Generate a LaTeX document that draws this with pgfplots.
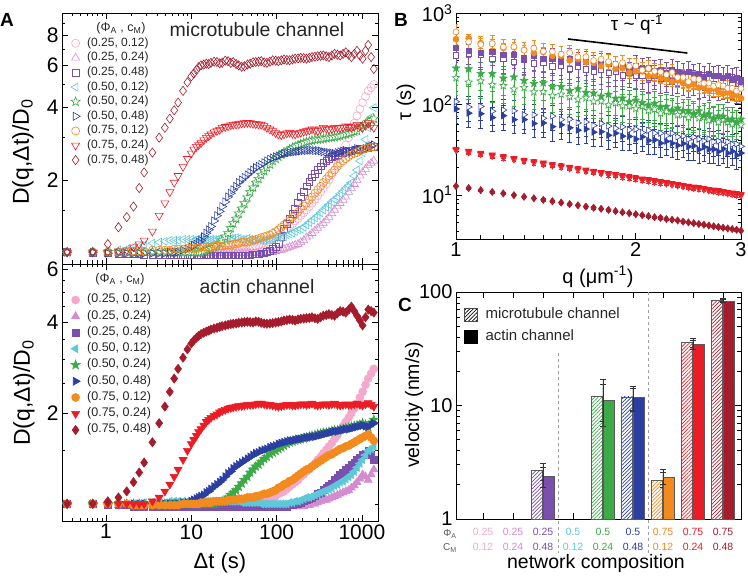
\documentclass[border=0pt]{standalone}
\usepackage{fontspec}
\setmainfont{Liberation Sans}
\usepackage{pgfplots}
\usepackage{pgfplotstable}
\pgfplotsset{compat=1.18}
\usetikzlibrary{plotmarks,patterns.meta}

\definecolor{cPink}{HTML}{F4A9CC}
\definecolor{cOrchid}{HTML}{D48BCF}
\definecolor{cPurple}{HTML}{7A4FAE}
\definecolor{cCyan}{HTML}{5CC8D9}
\definecolor{cGreen}{HTML}{3BAA47}
\definecolor{cBlue}{HTML}{2B3FA3}
\definecolor{cOrange}{HTML}{F28A1D}
\definecolor{cRed}{HTML}{EC1C24}
\definecolor{cDark}{HTML}{A51D2D}

% five-pointed star marker
\pgfdeclareplotmark{fivestar}{%
  \pgfpathmoveto{\pgfpointpolar{90}{\pgfplotmarksize}}%
  \pgfpathlineto{\pgfpointpolar{126}{0.42\pgfplotmarksize}}%
  \pgfpathlineto{\pgfpointpolar{162}{\pgfplotmarksize}}%
  \pgfpathlineto{\pgfpointpolar{198}{0.42\pgfplotmarksize}}%
  \pgfpathlineto{\pgfpointpolar{234}{\pgfplotmarksize}}%
  \pgfpathlineto{\pgfpointpolar{270}{0.42\pgfplotmarksize}}%
  \pgfpathlineto{\pgfpointpolar{306}{\pgfplotmarksize}}%
  \pgfpathlineto{\pgfpointpolar{342}{0.42\pgfplotmarksize}}%
  \pgfpathlineto{\pgfpointpolar{18}{\pgfplotmarksize}}%
  \pgfpathlineto{\pgfpointpolar{54}{0.42\pgfplotmarksize}}%
  \pgfpathclose
  \pgfusepathqfillstroke
}

% microtubule channel, D(q,dt)/D0
\pgfplotstableread{
t      pink orch purp cyan gren blue oran red  dred
0.35   1.00 1.00 1.00 1.00 1.00 1.00 1.00 1.00 1.00
0.7    1.00 1.00 0.99 1.00 1.00 1.00 1.00 1.00 1.00
1.05   1.00 1.00 0.99 1.01 1.00 0.99 1.00 1.00 1.08
1.4    1.00 0.99 0.98 1.02 1.00 0.99 1.00 1.01 1.27
1.75   1.00 0.99 0.98 1.03 1.00 0.99 1.00 1.02 1.40
2.1    1.00 0.99 0.98 1.05 1.00 0.99 1.01 1.05 1.55
2.45   1.00 0.99 0.98 1.06 1.00 0.99 1.01 1.08 1.85
2.8    1.00 0.99 0.97 1.07 1.00 0.99 1.01 1.12 2.15
3.5    1.00 0.99 0.97 1.09 1.00 0.99 1.02 1.22 2.60
4.2    1.00 0.99 0.97 1.10 1.00 0.99 1.02 1.42 3.00
4.9    1.00 0.99 0.97 1.11 1.00 0.99 1.02 1.60 3.30
5.6    1.00 0.99 0.97 1.12 1.00 1.00 1.02 1.78 3.60
6.3    1.00 0.99 0.97 1.12 1.00 1.00 1.03 1.95 3.90
7      1.00 0.99 0.97 1.12 1.00 1.00 1.03 2.08 4.20
8      1.00 0.99 0.97 1.13 1.00 1.02 1.03 2.27 4.70
9      1.00 0.99 0.97 1.13 1.00 1.03 1.04 2.45 5.10
10     1.00 0.99 0.97 1.13 1.00 1.05 1.04 2.58 5.40
10.7   1.00 0.99 0.97 1.12 1.00 1.07 1.03 2.68 5.55
11.5   1.00 0.99 0.97 1.13 1.00 1.08 1.04 2.75 5.75
12.2   1.00 0.99 0.97 1.14 1.00 1.10 1.04 2.80 5.90
13     1.00 0.99 0.97 1.13 1.00 1.12 1.05 2.85 6.00
14     1.00 0.99 0.97 1.13 1.01 1.16 1.05 2.93 6.05
15     1.01 0.99 0.97 1.13 1.02 1.20 1.05 3.00 6.10
16     1.01 0.99 0.97 1.12 1.03 1.24 1.05 3.05 6.08
17     1.01 0.99 0.97 1.13 1.04 1.28 1.05 3.10 6.15
18.5   1.01 0.99 0.97 1.13 1.05 1.35 1.06 3.16 6.22
20     1.01 0.99 0.97 1.13 1.07 1.42 1.06 3.20 6.20
21.5   1.02 0.99 0.97 1.14 1.09 1.48 1.06 3.24 6.12
23     1.02 0.99 0.97 1.14 1.12 1.55 1.06 3.30 6.15
25     1.02 0.99 0.97 1.13 1.16 1.62 1.07 3.33 6.28
27     1.02 0.99 0.97 1.14 1.20 1.70 1.07 3.35 6.25
29     1.02 0.99 0.97 1.14 1.26 1.76 1.07 3.38 6.15
31     1.03 0.99 0.97 1.14 1.32 1.82 1.08 3.40 6.20
33.5   1.03 0.99 0.97 1.15 1.38 1.88 1.08 3.41 6.08
36     1.03 0.99 0.97 1.14 1.45 1.95 1.09 3.42 6.00
39     1.04 0.99 0.97 1.13 1.52 2.00 1.10 3.44 5.92
42     1.04 0.99 0.97 1.13 1.60 2.05 1.10 3.45 5.95
45.5   1.05 0.99 0.97 1.14 1.69 2.10 1.10 3.46 6.05
49     1.05 0.99 0.97 1.13 1.78 2.15 1.11 3.45 6.10
53     1.05 0.99 0.98 1.12 1.86 2.20 1.12 3.43 6.18
57     1.06 0.99 0.98 1.12 1.95 2.25 1.13 3.42 6.20
61.5   1.07 0.99 0.98 1.13 2.02 2.28 1.14 3.41 6.22
66     1.08 1.00 0.99 1.12 2.10 2.32 1.15 3.40 6.25
71.5   1.09 1.00 0.99 1.12 2.18 2.36 1.16 3.36 6.18
77     1.10 1.00 1.00 1.13 2.25 2.40 1.17 3.30 6.15
83.5   1.12 1.00 1.01 1.13 2.32 2.44 1.18 3.25 6.22
90     1.14 1.00 1.03 1.14 2.40 2.47 1.20 3.20 6.30
97.5   1.16 1.01 1.05 1.15 2.45 2.50 1.22 3.14 6.28
105    1.18 1.02 1.08 1.15 2.50 2.52 1.24 3.10 6.25
113.5  1.20 1.02 1.16 1.15 2.55 2.55 1.27 3.08 6.30
122    1.23 1.03 1.25 1.16 2.60 2.57 1.30 3.10 6.35
132    1.25 1.04 1.31 1.18 2.64 2.58 1.33 3.13 6.32
142    1.28 1.05 1.38 1.19 2.68 2.60 1.36 3.15 6.30
153.5  1.31 1.06 1.45 1.20 2.72 2.61 1.40 3.12 6.35
165    1.35 1.07 1.52 1.22 2.75 2.62 1.43 3.10 6.40
178.5  1.38 1.08 1.61 1.24 2.79 2.63 1.47 3.13 6.42
192    1.42 1.10 1.70 1.25 2.82 2.64 1.52 3.15 6.45
208    1.46 1.12 1.79 1.27 2.85 2.65 1.56 3.18 6.43
224    1.50 1.15 1.88 1.30 2.88 2.65 1.60 3.20 6.40
242    1.55 1.17 1.96 1.33 2.90 2.66 1.65 3.22 6.45
260    1.60 1.20 2.05 1.36 2.92 2.66 1.70 3.25 6.50
281.5  1.66 1.23 2.12 1.39 2.94 2.65 1.76 3.22 6.52
303    1.72 1.26 2.20 1.42 2.95 2.65 1.82 3.20 6.55
328    1.78 1.29 2.28 1.46 2.96 2.64 1.88 3.25 6.58
353    1.85 1.32 2.35 1.50 2.97 2.62 1.95 3.30 6.60
382    1.92 1.36 2.40 1.54 2.99 2.61 2.02 3.28 6.55
411    2.00 1.40 2.45 1.58 3.00 2.60 2.08 3.25 6.50
444.5  2.10 1.45 2.49 1.62 3.01 2.59 2.14 3.27 6.60
478    2.20 1.50 2.52 1.66 3.02 2.58 2.20 3.30 6.70
517    2.32 1.55 2.55 1.70 3.04 2.60 2.28 3.30 6.65
556    2.45 1.60 2.58 1.75 3.05 2.62 2.35 3.30 6.60
601.5  2.62 1.65 2.60 1.80 3.08 2.64 2.40 3.32 6.70
647    2.80 1.70 2.62 1.85 3.10 2.65 2.45 3.35 6.80
700    3.00 1.78 2.64 1.90 3.12 2.62 2.50 3.33 6.65
753    3.20 1.85 2.65 1.95 3.15 2.60 2.55 3.30 6.50
814.5  3.45 1.92 2.66 2.08 3.18 2.66 2.58 3.35 6.70
876    3.70 2.00 2.68 2.20 3.20 2.70 2.60 3.40 6.90
947.5  3.95 2.08 2.69 2.40 3.28 2.68 2.64 3.35 6.60
1019   4.20 2.15 2.70 2.60 3.35 2.65 2.68 3.30 6.40
1102.5 4.45 2.22 2.71 2.95 3.42 2.70 2.70 3.38 6.90
1186   4.70 2.30 2.72 3.30 3.50 2.75 2.72 3.45 7.30
1283   4.85 2.35 2.74 3.65 3.55 2.78 2.74 3.38 6.50
1380   5.00 2.40 2.75 4.00 3.60 2.80 2.75 3.30 5.80
}\mttab

% actin channel, D(q,dt)/D0
\pgfplotstableread{
t      pink orch purp cyan gren blue oran red  dred
0.35   1.00 1.00 1.00 1.00 1.00 1.00 1.00 1.00 1.00
0.7    1.00 1.00 1.00 1.00 1.00 1.00 1.00 1.00 1.00
1.05   1.00 1.00 0.99 1.00 1.00 1.00 1.00 1.00 1.02
1.4    1.00 0.99 0.99 1.00 1.00 1.00 1.00 1.00 1.05
1.75   1.00 0.99 0.99 1.00 1.00 1.00 1.00 1.00 1.10
2.1    1.00 0.99 0.98 1.00 1.00 1.00 0.99 1.00 1.18
2.45   1.00 0.99 0.98 1.00 1.00 1.00 0.99 1.00 1.27
2.8    1.00 0.99 0.98 1.01 1.00 1.00 0.99 1.00 1.37
3.5    1.00 0.99 0.98 1.01 1.00 1.00 0.99 1.02 1.60
4.2    1.00 0.99 0.98 1.01 1.00 1.00 0.99 1.05 1.85
4.9    1.00 0.99 0.98 1.01 1.00 1.00 0.99 1.10 2.10
5.6    1.00 0.99 0.98 1.02 1.00 1.00 0.99 1.16 2.35
6.3    1.00 0.99 0.98 1.02 1.00 1.00 0.99 1.23 2.60
7      1.00 0.99 0.98 1.02 1.00 1.00 0.99 1.30 2.80
8      1.00 0.99 0.98 1.02 1.00 1.01 1.00 1.40 3.05
9      1.00 0.99 0.98 1.02 1.00 1.01 1.00 1.50 3.25
10     1.00 0.99 0.98 1.02 1.00 1.02 1.00 1.58 3.40
10.7   1.00 0.99 0.98 1.02 1.00 1.03 1.00 1.63 3.48
11.5   1.00 0.99 0.98 1.02 1.00 1.04 1.00 1.68 3.55
12.2   1.00 0.99 0.98 1.02 1.00 1.05 1.00 1.73 3.60
13     1.00 0.99 0.98 1.02 1.00 1.06 1.01 1.77 3.65
14     1.00 0.99 0.98 1.02 1.00 1.07 1.01 1.82 3.69
15     1.00 0.99 0.98 1.02 1.00 1.09 1.01 1.87 3.72
16     1.00 0.99 0.98 1.02 1.00 1.10 1.01 1.90 3.75
17     1.00 0.99 0.98 1.02 1.00 1.12 1.01 1.93 3.78
18.5   1.00 0.99 0.98 1.02 1.00 1.14 1.02 1.96 3.81
20     1.00 0.99 0.98 1.02 1.01 1.16 1.02 1.98 3.83
21.5   1.00 0.99 0.98 1.02 1.01 1.18 1.02 2.01 3.86
23     1.00 0.99 0.98 1.02 1.02 1.20 1.02 2.03 3.88
25     1.00 0.99 0.98 1.02 1.03 1.23 1.02 2.05 3.90
27     1.00 0.99 0.98 1.02 1.05 1.26 1.03 2.07 3.92
29     1.00 0.99 0.98 1.02 1.07 1.28 1.03 2.08 3.94
31     1.00 0.99 0.98 1.02 1.09 1.31 1.03 2.09 3.95
33.5   1.00 0.99 0.98 1.02 1.11 1.33 1.03 2.10 3.96
36     1.00 0.99 0.98 1.02 1.14 1.35 1.04 2.11 3.98
39     1.00 0.99 0.98 1.01 1.17 1.37 1.04 2.11 3.99
42     1.00 0.99 0.98 1.01 1.20 1.39 1.04 2.12 4.00
45.5   1.00 0.99 0.98 1.01 1.23 1.41 1.05 2.13 4.01
49     1.00 0.99 0.98 1.01 1.27 1.43 1.05 2.13 4.00
53     1.00 0.98 0.98 1.01 1.30 1.45 1.05 2.13 3.99
57     1.01 0.98 0.98 1.01 1.33 1.47 1.06 2.14 4.02
61.5   1.01 0.98 0.98 1.01 1.35 1.48 1.06 2.15 4.01
66     1.02 0.98 0.98 1.00 1.38 1.50 1.07 2.15 3.98
71.5   1.02 0.98 0.98 1.00 1.41 1.51 1.08 2.14 3.96
77     1.03 0.98 0.98 1.00 1.43 1.52 1.08 2.13 3.95
83.5   1.04 0.98 0.98 1.00 1.46 1.54 1.09 2.13 3.96
90     1.05 0.98 0.98 1.00 1.48 1.55 1.10 2.12 3.97
97.5   1.06 0.98 0.98 1.00 1.50 1.56 1.11 2.11 3.99
105    1.08 0.98 0.98 1.00 1.52 1.58 1.13 2.10 4.00
113.5  1.09 0.98 0.98 1.00 1.54 1.59 1.14 2.11 4.02
122    1.10 0.98 0.98 1.00 1.56 1.60 1.16 2.12 4.05
132    1.12 0.98 0.98 1.00 1.58 1.61 1.17 2.13 4.06
142    1.14 0.98 0.99 1.01 1.60 1.62 1.19 2.13 4.08
153.5  1.16 0.98 0.99 1.01 1.61 1.62 1.20 2.12 4.07
165    1.18 0.98 1.00 1.02 1.62 1.63 1.22 2.12 4.05
178.5  1.20 0.98 1.00 1.02 1.63 1.64 1.24 2.13 4.08
192    1.23 0.98 1.01 1.03 1.64 1.64 1.26 2.14 4.10
208    1.25 0.98 1.02 1.04 1.65 1.65 1.28 2.14 4.11
224    1.28 0.99 1.03 1.05 1.66 1.66 1.30 2.13 4.12
242    1.30 0.99 1.04 1.05 1.67 1.66 1.31 2.14 4.13
260    1.33 1.00 1.05 1.06 1.68 1.67 1.33 2.15 4.15
281.5  1.36 1.00 1.06 1.07 1.69 1.67 1.35 2.13 4.12
303    1.40 1.01 1.08 1.08 1.70 1.68 1.37 2.12 4.10
328    1.43 1.02 1.09 1.09 1.71 1.69 1.39 2.13 4.15
353    1.47 1.03 1.11 1.10 1.72 1.70 1.41 2.14 4.20
382    1.51 1.03 1.13 1.11 1.72 1.71 1.43 2.14 4.22
411    1.55 1.04 1.15 1.12 1.73 1.72 1.45 2.13 4.25
444.5  1.59 1.05 1.17 1.13 1.74 1.73 1.46 2.14 4.22
478    1.64 1.06 1.20 1.15 1.75 1.74 1.48 2.15 4.20
517    1.69 1.07 1.22 1.16 1.75 1.74 1.50 2.13 4.28
556    1.75 1.08 1.25 1.18 1.76 1.75 1.52 2.12 4.35
601.5  1.81 1.09 1.27 1.19 1.77 1.76 1.53 2.13 4.33
647    1.87 1.10 1.30 1.21 1.78 1.77 1.55 2.14 4.30
700    1.93 1.11 1.32 1.23 1.79 1.77 1.56 2.13 4.40
753    2.00 1.13 1.35 1.25 1.80 1.78 1.58 2.13 4.50
814.5  2.07 1.15 1.37 1.28 1.81 1.79 1.60 2.14 4.35
876    2.15 1.18 1.40 1.32 1.82 1.80 1.62 2.15 4.20
947.5  2.25 1.21 1.42 1.36 1.83 1.81 1.64 2.13 4.05
1019   2.35 1.25 1.45 1.40 1.85 1.82 1.66 2.12 3.90
1102.5 2.48 1.23 1.47 1.45 1.83 1.81 1.68 2.14 4.15
1186   2.60 1.20 1.50 1.50 1.80 1.80 1.70 2.16 4.40
1283   2.70 1.25 1.45 1.52 1.85 1.83 1.66 2.13 4.35
1380   2.80 1.30 1.40 1.55 1.90 1.85 1.62 2.10 4.30
}\actab

% tau(q); o = microtubule (open), f = actin (filled)
\pgfplotstableread{
q    oo  of  pf  po  gf    go    bo   bf   ro    rf   dr
1.00 620 515 412 342 247.5 193.8 106  88.4 31.0  32.1 12.5
1.05 482 527 387 353 242.5 173.3 92.6 79.3 29.4  30.4 11.9
1.10 450 466 364 347 215.6 178.8 94.0 78.1 28.0  29.0 11.3
1.15 461 461 378 315 214.7 162.4 83.2 70.9 26.8  27.7 10.8
1.20 424 413 347 314 191.7 158.5 85.8 74.3 25.6  26.5 10.4
1.25 427 422 350 289 197.6 145.8 84.1 67.3 24.5  25.4 9.95
1.30 390 392 318 307 180.9 151.5 76.3 67.4 23.5  24.3 9.55
1.35 410 364 336 280 167.6 135.8 76.0 61.1 22.6  23.4 9.2
1.40 379 373 315 283 170.3 136.1 69.7 61.9 21.8  22.6 8.85
1.45 376 338 314 259 155.2 123.5 73.7 56.3 21.0  21.7 8.55
1.50 352 338 294 266 154.9 127.8 67.3 59.0 20.3  21.0 8.25
1.55 366 301 315 243 140.0 119.9 67.9 54.8 19.6  20.3 7.95
1.60 329 312 282 257 145.9 112.5 62.0 51.5 18.9  19.6 7.7
1.65 330 288 293 241 133.7 116.8 63.3 53.0 18.3  18.9 7.45
1.70 300 282 265 228 131.4 106.6 58.0 49.0 17.8  18.4 7.25
1.75 311 261 279 237 121.7 107.7 61.0 49.6 17.2  17.8 7.05
1.80 292 273 279 221 127.4 97.4  57.2 45.3 16.7  17.3 6.85
1.85 274 242 258 224 115.1 102.5 54.1 47.8 16.3  16.9 6.65
1.90 284 247 261 207 115.8 95.8  56.0 44.3 15.8  16.4 6.45
1.95 260 220 244 219 105.6 95.0  52.0 44.0 15.4  15.9 6.3
2.00 262 228 262 205 109.8 89.0  52.8 41.2 15.0  15.5 6.15
2.05 236 228 243 205 103.5 94.8  48.6 43.6 14.6  15.1 6.0
2.10 246 202 249 193 97.3  84.5  51.4 39.7 14.3  14.8 5.85
2.15 229 206 230 205 101.4 87.6  47.8 40.3 13.9  14.4 5.7
2.20 225 192 239 188 93.0  78.9  47.8 37.1 13.6  14.1 5.6
2.25 210 189 221 192 93.9  82.6  44.9 38.9 13.3  13.8 5.45
2.30 222 176 236 178 85.3  82.4  47.6 37.0 13.0  13.5 5.35
2.35 196 182 224 187 90.1  75.9  43.5 35.1 12.7  13.1 5.25
2.40 196 169 214 179 84.4  76.5  44.4 36.8 12.4  12.8 5.1
2.45 176 159 224 170 83.8  71.1  41.0 34.0 12.2  12.6 5.0
2.50 189 164 210 180 78.6  76.1  43.2 34.7 11.9  12.3 4.9
2.55 186 151 216 167 83.7  70.3  41.1 31.6 11.7  12.1 4.8
2.60 169 153 200 171 75.0  71.7  39.2 33.7 11.5  11.9 4.72
2.65 170 140 215 157 77.6  66.2  41.3 31.8 11.2  11.6 4.62
2.70 157 148 202 168 69.9  68.2  38.2 31.8 11.0  11.4 4.53
2.75 163 138 203 159 73.5  63.0  39.1 30.0 10.8  11.2 4.45
2.80 158 130 193 160 73.2  67.0  35.8 32.2 10.6  11.0 4.37
2.85 149 134 206 151 67.6  63.2  38.2 28.9 10.4  10.8 4.29
2.90 149 124 190 163 68.2  60.1  36.1 30.2 10.2  10.6 4.22
2.95 139 126 195 147 63.5  62.7  36.3 27.4 10.05 10.4 4.15
3.00 148 115 182 154 67.9  58.6  34.2 28.9 9.85  10.2 4.05
}\btab

\pgfplotsset{
  every axis/.append style={
    scale only axis,
    axis line style={line width=0.9pt},
    tick align=inside,
    major tick length=6pt,
    minor tick length=3.5pt,
    every tick/.style={black,line width=0.7pt},
    /pgf/number format/assume math mode=true,
  },
}

\begin{document}
\begin{tikzpicture}[x=1pt,y=1pt]
\path[use as bounding box] (0pt,0pt) rectangle (748pt,580pt);

% ---------- A, microtubule channel ----------
\begin{axis}[at={(62pt,316pt)}, anchor=south west, width=316pt, height=251pt,
  xmode=log, ymode=log,
  xmin=0.3049, xmax=1545, ymin=0.893, ymax=9.92,
  xtick={1,10,100,1000}, xticklabels={},
  minor xtick={0.4,0.5,0.6,0.7,0.8,0.9,2,3,4,5,6,7,8,9,20,30,40,50,60,70,80,90,200,300,400,500,600,700,800,900},
  ytick={2,4,6,8}, yticklabels={2,4,6,8},
  minor ytick={1,1.5,3,5,7,9},
  tick label style={font=\fontsize{21}{21}\selectfont},
  legend cell align=left,
  legend image code/.code={\draw[mark repeat=2,mark phase=2] plot coordinates {(0pt,0pt)(5pt,0pt)(10pt,0pt)};},
  legend style={at={(0,1)}, anchor=north west, xshift=9pt, yshift=-23.3pt,
    draw=none, fill=none, inner sep=0pt, outer sep=0pt, row sep=0.6pt, column sep=6pt,
    font=\fontsize{12}{12}\selectfont, text=black!85,
    nodes={text height=9pt, text depth=3pt, inner sep=1pt}},
]
\addplot[only marks, line width=0.6pt, cPink, mark=o, mark size=4pt] table[x=t,y=pink]{\mttab};
\addlegendentry{(0.25, 0.12)}
\addplot[only marks, line width=0.6pt, cOrchid, mark=triangle, mark size=4.6pt] table[x=t,y=orch]{\mttab};
\addlegendentry{(0.25, 0.24)}
\addplot[only marks, line width=0.6pt, cPurple, mark=square, mark size=3.4pt] table[x=t,y=purp]{\mttab};
\addlegendentry{(0.25, 0.48)}
\addplot[only marks, line width=0.6pt, cCyan, mark=triangle, mark size=4.6pt, mark options={rotate=90}] table[x=t,y=cyan]{\mttab};
\addlegendentry{(0.50, 0.12)}
\addplot[only marks, line width=0.6pt, cGreen, mark=fivestar, mark size=4.8pt, mark options={fill=white}] table[x=t,y=gren]{\mttab};
\addlegendentry{(0.50, 0.24)}
\addplot[only marks, line width=0.6pt, cBlue, mark=triangle, mark size=4.6pt, mark options={rotate=-90}] table[x=t,y=blue]{\mttab};
\addlegendentry{(0.50, 0.48)}
\addplot[only marks, line width=0.6pt, cOrange, mark=o, mark size=4pt] table[x=t,y=oran]{\mttab};
\addlegendentry{(0.75, 0.12)}
\addplot[only marks, line width=0.6pt, cRed, mark=triangle, mark size=4.6pt, mark options={rotate=180}] table[x=t,y=red]{\mttab};
\addlegendentry{(0.75, 0.24)}
\addplot[only marks, line width=0.6pt, cDark, mark=diamond, mark size=4.6pt] table[x=t,y=dred]{\mttab};
\addlegendentry{(0.75, 0.48)}
\end{axis}

% ---------- A, actin channel ----------
\begin{axis}[at={(62pt,59pt)}, anchor=south west, width=316pt, height=257pt,
  xmode=log, ymode=log,
  xmin=0.3049, xmax=1545, ymin=0.8776, ymax=6.23,
  xtick={1,10,100,1000}, xticklabels={1,10,100,1000},
  minor xtick={0.4,0.5,0.6,0.7,0.8,0.9,2,3,4,5,6,7,8,9,20,30,40,50,60,70,80,90,200,300,400,500,600,700,800,900},
  ytick={2,4,6}, yticklabels={2,4,6},
  minor ytick={1,1.5,2.5,3,3.5,4.5,5,5.5},
  tick label style={font=\fontsize{21}{21}\selectfont},
  legend cell align=left,
  legend image code/.code={\draw[mark repeat=2,mark phase=2] plot coordinates {(0pt,0pt)(5pt,0pt)(10pt,0pt)};},
  legend style={at={(0,1)}, anchor=north west, xshift=9pt, yshift=-29pt,
    draw=none, fill=none, inner sep=0pt, outer sep=0pt, row sep=2.25pt, column sep=6pt,
    font=\fontsize{12.5}{12.5}\selectfont, text=black!85,
    nodes={text height=9pt, text depth=3pt, inner sep=1pt}},
]
\addplot[only marks, line width=0.6pt, cPink, mark=*, mark size=4pt] table[x=t,y=pink]{\actab};
\addlegendentry{(0.25, 0.12)}
\addplot[only marks, line width=0.6pt, cOrchid, mark=triangle*, mark size=4.6pt] table[x=t,y=orch]{\actab};
\addlegendentry{(0.25, 0.24)}
\addplot[only marks, line width=0.6pt, cPurple, mark=square*, mark size=3.4pt] table[x=t,y=purp]{\actab};
\addlegendentry{(0.25, 0.48)}
\addplot[only marks, line width=0.6pt, cCyan, mark=triangle*, mark size=4.6pt, mark options={rotate=90}] table[x=t,y=cyan]{\actab};
\addlegendentry{(0.50, 0.12)}
\addplot[only marks, line width=0.6pt, cGreen, mark=fivestar, mark size=4.8pt] table[x=t,y=gren]{\actab};
\addlegendentry{(0.50, 0.24)}
\addplot[only marks, line width=0.6pt, cBlue, mark=triangle*, mark size=4.6pt, mark options={rotate=-90}] table[x=t,y=blue]{\actab};
\addlegendentry{(0.50, 0.48)}
\addplot[only marks, line width=0.6pt, cOrange, mark=*, mark size=4pt] table[x=t,y=oran]{\actab};
\addlegendentry{(0.75, 0.12)}
\addplot[only marks, line width=0.6pt, cRed, mark=triangle*, mark size=4.6pt, mark options={rotate=180}] table[x=t,y=red]{\actab};
\addlegendentry{(0.75, 0.24)}
\addplot[only marks, line width=0.6pt, cDark, mark=diamond*, mark size=4.6pt] table[x=t,y=dred]{\actab};
\addlegendentry{(0.75, 0.48)}
\end{axis}

% ---------- B ----------
\begin{axis}[at={(456pt,341pt)}, anchor=south west, width=285pt, height=226pt,
  xmode=log, ymode=log, xmin=1, xmax=3, ymin=3.285, ymax=1000,
  xtick={1,2,3}, xticklabels={1,2,3},
  minor xtick={1.1,1.2,1.3,1.4,1.5,1.6,1.7,1.8,1.9,2.2,2.4,2.6,2.8},
  ytick={10,100,1000},
  yticklabels={10\textsuperscript{1},10\textsuperscript{2},10\textsuperscript{3}},
  minor ytick={4,5,6,7,8,9,20,30,40,50,60,70,80,90,200,300,400,500,600,700,800,900},
  tick label style={font=\fontsize{20}{20}\selectfont},
  error bars/y dir=both,
  error bars/error bar style={line width=0.5pt},
  error bars/error mark options={rotate=90, mark size=2.3pt, line width=0.5pt},
]
\addplot[only marks, line width=0.6pt, cBlue, mark=triangle*, mark size=3.6pt, mark options={rotate=-90}, error bars/y fixed relative=0.3] table[x=q,y=bf]{\btab};
\addplot[only marks, line width=0.6pt, cBlue, mark=triangle*, mark size=3.6pt, mark options={rotate=-90, fill=white}, error bars/y fixed relative=0.3] table[x=q,y=bo]{\btab};
\addplot[only marks, line width=0.6pt, cGreen, mark=fivestar, mark size=3.9pt, mark options={fill=white}, error bars/y fixed relative=0.35] table[x=q,y=go]{\btab};
\addplot[only marks, line width=0.6pt, cGreen, mark=fivestar, mark size=3.9pt, error bars/y fixed relative=0.35] table[x=q,y=gf]{\btab};
\addplot[only marks, line width=0.6pt, cPurple, mark=square*, mark size=2.6pt, mark options={fill=white}, error bars/y fixed relative=0.3] table[x=q,y=po]{\btab};
\addplot[only marks, line width=0.6pt, cPurple, mark=square*, mark size=2.6pt, error bars/y fixed relative=0.3] table[x=q,y=pf]{\btab};
\addplot[only marks, line width=0.6pt, cOrange, mark=*, mark size=3pt, error bars/y fixed relative=0.12] table[x=q,y=of]{\btab};
\addplot[only marks, line width=0.6pt, cOrange, mark=*, mark size=3pt, mark options={fill=white}, error bars/y fixed relative=0.22] table[x=q,y=oo]{\btab};
\addplot[only marks, line width=0.6pt, cRed, mark=triangle*, mark size=3.6pt, mark options={rotate=180, fill=white}, error bars/y fixed relative=0.05] table[x=q,y=ro]{\btab};
\addplot[only marks, line width=0.6pt, cRed, mark=triangle*, mark size=3.6pt, mark options={rotate=180}, error bars/y fixed relative=0.05] table[x=q,y=rf]{\btab};
\addplot[only marks, line width=0.6pt, cDark, mark=diamond*, mark size=3.6pt, error bars/y fixed relative=0.03] table[x=q,y=dr]{\btab};
\addplot[black, line width=1.6pt, no marks, error bars/y dir=none] coordinates {(1.54,518) (2.44,363)};
\end{axis}

% ---------- C ----------
\begin{axis}[at={(456pt,61pt)}, anchor=south west, width=285pt, height=227pt,
  ymode=log, ymin=1, ymax=100, xmin=0.1, xmax=9.6,
  ytick={1,10,100}, yticklabels={1,10,100},
  minor ytick={2,3,4,5,6,7,8,9,20,30,40,50,60,70,80,90},
  xtick={1,2,3,4,5,6,7,8,9},
  tick label style={font=\fontsize{20}{20}\selectfont},
  xticklabel style={font=\fontsize{10.5}{15}\selectfont, align=center, anchor=north, inner sep=0pt, yshift=-9pt},
  xticklabels={
    {\textcolor{cPink}{0.25}\\\textcolor{cPink}{0.12}},
    {\textcolor{cOrchid}{0.25}\\\textcolor{cOrchid}{0.24}},
    {\textcolor{cPurple}{0.25}\\\textcolor{cPurple}{0.48}},
    {\textcolor{cCyan}{0.5}\\\textcolor{cCyan}{0.12}},
    {\textcolor{cGreen}{0.5}\\\textcolor{cGreen}{0.24}},
    {\textcolor{cBlue}{0.5}\\\textcolor{cBlue}{0.48}},
    {\textcolor{cOrange}{0.75}\\\textcolor{cOrange}{0.12}},
    {\textcolor{cRed}{0.75}\\\textcolor{cRed}{0.24}},
    {\textcolor{cDark}{0.75}\\\textcolor{cDark}{0.48}}},
  clip=false,
  legend cell align=left,
  legend style={at={(0,1)}, anchor=north west, xshift=8pt, yshift=-14.5pt,
    draw=none, fill=none, inner sep=0pt, outer sep=0pt, row sep=5pt, column sep=7pt,
    font=\fontsize{15}{15}\selectfont, text=black!85,
    nodes={text height=11pt, text depth=4pt, inner sep=1pt}},
  error bars/y dir=both, error bars/y explicit,
  error bars/error bar style={line width=0.7pt, black!80},
  error bars/error mark options={rotate=90, mark size=3pt, line width=0.7pt, black!80},
]
\addlegendimage{legend image code/.code={\draw[draw=black!70, line width=0.6pt, pattern={Lines[angle=45,distance=2.6pt,line width=0.7pt]}, pattern color=black] (0pt,-6.5pt) rectangle (13pt,6.5pt);}}
\addlegendentry{microtubule channel}
\addlegendimage{legend image code/.code={\draw[draw=black, fill=black] (0pt,-6.5pt) rectangle (13pt,6.5pt);}}
\addlegendentry{actin channel}

\draw[gray!75, dashed, line width=0.7pt] (axis cs:3.5,29) -- (axis cs:3.5,1) -- ++(0pt,-34pt);
\draw[gray!75, dashed, line width=0.7pt] (axis cs:6.5,100) -- (axis cs:6.5,1) -- ++(0pt,-34pt);

\addplot[ybar, bar width=11.2pt, bar shift=-5.9pt, draw=black!65, line width=0.6pt, pattern={Lines[angle=45,distance=2.6pt,line width=0.7pt]}, pattern color=cPurple, forget plot] coordinates {(3,2.69) += (0,0.39) -= (0,0.49)};
\addplot[ybar, bar width=11.2pt, bar shift=5.9pt, draw=black!65, line width=0.6pt, fill=cPurple, forget plot] coordinates {(3,2.40) += (0,0.48) -= (0,0.50)};
\addplot[ybar, bar width=11.2pt, bar shift=-5.9pt, draw=black!65, line width=0.6pt, pattern={Lines[angle=45,distance=2.6pt,line width=0.7pt]}, pattern color=cGreen, forget plot] coordinates {(5,12.1) += (0,4.8) -= (0,4.8)};
\addplot[ybar, bar width=11.2pt, bar shift=5.9pt, draw=black!65, line width=0.6pt, fill=cGreen, forget plot] coordinates {(5,11.1) += (0,4.2) -= (0,4.5)};
\addplot[ybar, bar width=11.2pt, bar shift=-5.9pt, draw=black!65, line width=0.6pt, pattern={Lines[angle=45,distance=2.6pt,line width=0.7pt]}, pattern color=cBlue, forget plot] coordinates {(6,11.9) += (0,2.9) -= (0,2.8)};
\addplot[ybar, bar width=11.2pt, bar shift=5.9pt, draw=black!65, line width=0.6pt, fill=cBlue, forget plot] coordinates {(6,11.7) += (0,2.6) -= (0,2.8)};
\addplot[ybar, bar width=11.2pt, bar shift=-5.9pt, draw=black!65, line width=0.6pt, pattern={Lines[angle=45,distance=2.6pt,line width=0.7pt]}, pattern color=cOrange, forget plot] coordinates {(7,2.20) += (0,0.40) -= (0,0.30)};
\addplot[ybar, bar width=11.2pt, bar shift=5.9pt, draw=black!65, line width=0.6pt, fill=cOrange, forget plot] coordinates {(7,2.35) += (0,0.39) -= (0,0.32)};
\addplot[ybar, bar width=11.2pt, bar shift=-5.9pt, draw=black!65, line width=0.6pt, pattern={Lines[angle=45,distance=2.6pt,line width=0.7pt]}, pattern color=cRed, forget plot] coordinates {(8,35.9) += (0,2.8) -= (0,3.5)};
\addplot[ybar, bar width=11.2pt, bar shift=5.9pt, draw=black!65, line width=0.6pt, fill=cRed, forget plot] coordinates {(8,34.3) += (0,3.2) -= (0,2.9)};
\addplot[ybar, bar width=11.2pt, bar shift=-5.9pt, draw=black!65, line width=0.6pt, pattern={Lines[angle=45,distance=2.6pt,line width=0.7pt]}, pattern color=cDark, forget plot] coordinates {(9,85) += (0,3) -= (0,3)};
\addplot[ybar, bar width=11.2pt, bar shift=5.9pt, draw=black!65, line width=0.6pt, fill=cDark, forget plot] coordinates {(9,83) += (0,3) -= (0,2)};
\end{axis}

% ---------- texts ----------
\node[font=\fontsize{19}{19}\selectfont\bfseries] at (7pt,560pt) {A};
\node[font=\fontsize{19}{19}\selectfont\bfseries] at (401pt,560pt) {B};
\node[font=\fontsize{19}{19}\selectfont\bfseries] at (405pt,275pt) {C};

\node[rotate=90, font=\fontsize{23}{23}\selectfont] at (23pt,428pt) {D(q,Δt)/D\textsubscript{0}};
\node[rotate=90, font=\fontsize{23}{23}\selectfont] at (24pt,187pt) {D(q,Δt)/D\textsubscript{0}};
\node[font=\fontsize{22}{22}\selectfont] at (220pt,17pt) {Δt (s)};
\node[font=\fontsize{19.5}{19.5}\selectfont, text=black!85] at (257pt,550pt) {microtubule channel};
\node[font=\fontsize{19.5}{19.5}\selectfont, text=black!85] at (257pt,293pt) {actin channel};
\node[font=\fontsize{12.5}{12.5}\selectfont, text=black!85] at (121pt,552pt) {(Φ\textsubscript{A} , c\textsubscript{M})};
\node[font=\fontsize{12.5}{12.5}\selectfont, text=black!85] at (120pt,301pt) {(Φ\textsubscript{A} , c\textsubscript{M})};

\node[font=\fontsize{19}{19}\selectfont] at (637pt,555pt) {τ \textasciitilde{} q\textsuperscript{-1}};
\node[rotate=90, font=\fontsize{20}{20}\selectfont] at (406pt,478pt) {τ (s)};
\node[font=\fontsize{20}{20}\selectfont] at (598pt,303pt) {q (μm\textsuperscript{-1})};

\node[rotate=90, font=\fontsize{19.5}{19.5}\selectfont] at (414pt,175pt) {velocity (nm/s)};
\node[font=\fontsize{19.5}{19.5}\selectfont] at (596pt,17pt) {network composition};
\node[font=\fontsize{10}{10}\selectfont, text=black!65] at (450pt,46pt) {Φ\textsubscript{A}};
\node[font=\fontsize{10}{10}\selectfont, text=black!65] at (450pt,32pt) {C\textsubscript{M}};
\end{tikzpicture}
\end{document}
